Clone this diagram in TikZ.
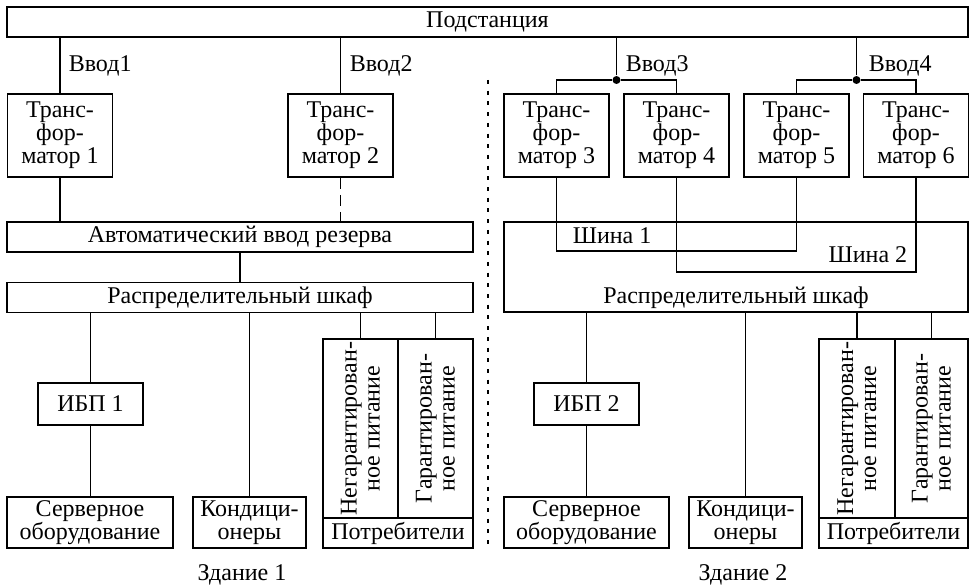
\documentclass[tikz,border=0pt]{standalone}
\usepackage{fontspec}
\setmainfont{Liberation Serif}
\usepackage{tikz}

\begin{document}
\begin{tikzpicture}[x=1pt, y=1pt, yscale=-1, xscale=1, line width=1.6pt,
  font=\fontsize{24}{23}\selectfont,
  box/.style={draw, inner sep=0pt, align=center},
  trafo/.style={box, minimum width=105pt, minimum height=83pt},
  bar/.style={box, minimum width=466pt, minimum height=30pt},
  ups/.style={box, minimum width=105pt, minimum height=42pt},
  user/.style={box, minimum height=51pt},
  feed/.style={box, rotate=90, minimum width=179pt},
  dot/.style={circle, fill, inner sep=0pt, minimum size=8pt}]
\useasboundingbox (0,0) rectangle (970,586);
%Boxes
\node [box, minimum width=961pt, minimum height=30pt] (sub) at (487.5,22) {Подстанция};
\node [trafo] (T1) at (60,135.5) {Транс-\\фор-\\матор 1};
\node [trafo] (T2) at (340.5,135.5) {Транс-\\фор-\\матор 2};
\node [trafo] (T3) at (556.5,135.5) {Транс-\\фор-\\матор 3};
\node [trafo] (T4) at (676.5,135.5) {Транс-\\фор-\\матор 4};
\node [trafo] (T5) at (796.5,135.5) {Транс-\\фор-\\матор 5};
\node [trafo] (T6) at (916,135.5) {Транс-\\фор-\\матор 6};
\node [bar] (avr) at (240,237) {Автоматический ввод резерва};
\node [bar] (rsh1) at (240,297.5) {Распределительный шкаф};
\node [box, minimum width=464pt, minimum height=90pt] (rsh2) at (736,267) {};
\node [ups] (ups1) at (90.5,404) {ИБП 1};
\node [ups] (ups2) at (586.5,404) {ИБП 2};
\node [user, minimum width=166pt] (srv1) at (90,522.5) {Серверное\\оборудование};
\node [user, minimum width=165pt] (srv2) at (586.5,522.5) {Серверное\\оборудование};
\node [user, minimum width=113pt] (ac1) at (249.5,522.5) {Кондици-\\онеры};
\node [user, minimum width=113pt] (ac2) at (745.5,522.5) {Кондици-\\онеры};
\node [feed, minimum height=75pt] (ng1) at (360.5,428.5) {Негарантирован-\\ное питание};
\node [feed, minimum height=75pt] (g1) at (435.5,428.5) {Гарантирован-\\ное питание};
\node [feed, minimum height=76pt] (ng2) at (857,428.5) {Негарантирован-\\ное питание};
\node [feed, minimum height=73pt] (g2) at (931.5,428.5) {Гарантирован-\\ное питание};
\node [box, minimum width=150pt, minimum height=30pt] (cons1) at (398,533) {Потребители};
\node [box, minimum width=149pt, minimum height=30pt] (cons2) at (893.5,533) {Потребители};
%Junctions
\node [dot] (j3) at (616.5,80) {};
\node [dot] (j4) at (856.5,80) {};
\coordinate (divtop) at (488,80);
\coordinate (divbot) at (488,548);
%Lines
\draw (T1.north) -- (T1.north |- sub.south);
\draw (T2.north) -- (T2.north |- sub.south);
\draw (j3) -- (j3 |- sub.south);
\draw (j4) -- (j4 |- sub.south);
\draw (T3.north) |- (j3) -| (T4.north);
\draw (T5.north) |- (j4) -| (T6.north);
\draw (T1.south) -- (T1.south |- avr.north);
\draw [dash pattern=on 11pt off 6pt] (T2.south) -- (T2.south |- avr.north);
\draw (avr) -- (rsh1);
\draw (T3.south) -- ++(0,73) -| (T5.south);
\draw (T4.south) -- ++(0,94) -| (T6.south);
\draw (ups1) -- (ups1 |- rsh1.south);
\draw (ups1) -- (ups1 |- srv1.north);
\draw (ac1) -- (ac1 |- rsh1.south);
\draw (ng1.east) -- (ng1.east |- rsh1.south);
\draw (g1.east) -- (g1.east |- rsh1.south);
\draw (ups2) -- (ups2 |- rsh2.south);
\draw (ups2) -- (srv2);
\draw (ac2) -- (ac2 |- rsh2.south);
\draw (ng2.east) -- (ng2.east |- rsh2.south);
\draw (g2.east) -- (g2.east |- rsh2.south);
\draw [dash pattern=on 4pt off 6.7pt] (divtop) -- (divbot);
%Text
\node [anchor=base west, inner sep=0pt] (in1) at (68,72) {Ввод1};
\node [anchor=base west, inner sep=0pt] (in2) at (349,72) {Ввод2};
\node [anchor=base west, inner sep=0pt] (in3) at (625,72) {Ввод3};
\node [anchor=base west, inner sep=0pt] (in4) at (868,72) {Ввод4};
\node [anchor=base west, inner sep=0pt] (bus1) at (572,243) {Шина 1};
\node [anchor=base east, inner sep=0pt] (bus2) at (908,262) {Шина 2};
\node [anchor=base, inner sep=0pt] (rsh2txt) at (736,303) {Распределительный шкаф};
\node [anchor=base, inner sep=0pt] (bld1) at (242,580) {Здание 1};
\node [anchor=base, inner sep=0pt] (bld2) at (743,580) {Здание 2};
\end{tikzpicture}
\end{document}
